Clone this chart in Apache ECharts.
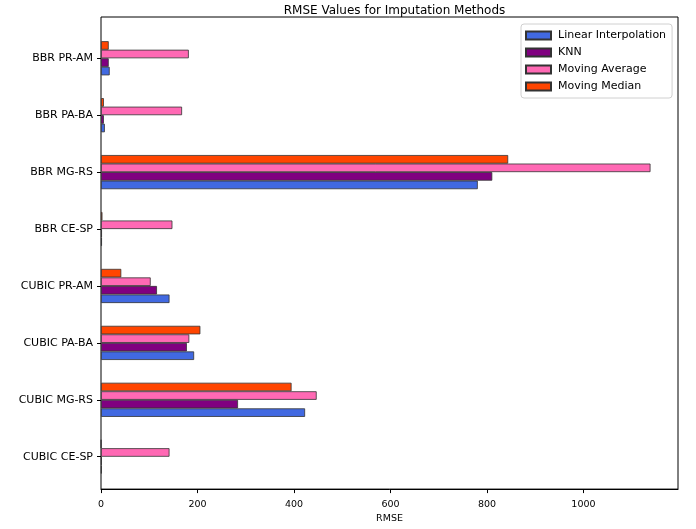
<!DOCTYPE html>
<html>
<head>
<meta charset="utf-8">
<script src="https://cdn.jsdelivr.net/npm/echarts@6/dist/echarts.min.js"></script>
<style>html,body{margin:0;padding:0;background:#fff;}#c{width:696px;height:529px;}</style>
</head>
<body>
<div id="c"></div>
<script>
// bottom-to-top order (as matplotlib barh draws them)
const categories = ['CUBIC CE-SP','CUBIC MG-RS','CUBIC PA-BA','CUBIC PR-AM','BBR CE-SP','BBR MG-RS','BBR PA-BA','BBR PR-AM'];
const linearInterpolation = [1.5, 423, 193, 142, 2, 781, 8, 18];
const knn = [1.5, 284, 178, 116, 2, 811, 6, 16];
const movingAverage = [142, 447, 183, 103, 148, 1139, 168, 182];
const movingMedian = [0.5, 395, 206, 42, 3, 844, 6, 16];
const seriesNames = ['Linear Interpolation','KNN','Moving Average','Moving Median'];
const seriesColors = ['#4169E1','#800080','#FF69B4','#FF4500'];
const xTicks = [0, 200, 400, 600, 800, 1000];
const xMax = 1196;

const FONT = 'DejaVu Sans';
const chart = echarts.init(document.getElementById('c'), null, {renderer: 'canvas'});
const dataSets = [linearInterpolation, knn, movingAverage, movingMedian];

// ECharts stacks horizontal group members top-down, so feed series in reverse
const order = [3, 2, 1, 0];

const option = {
  animation: false,
  backgroundColor: '#fff',
  textStyle: {fontFamily: FONT},
  title: {
    text: 'RMSE Values for Imputation Methods',
    left: 389.5, top: 0, textAlign: 'center',
    textStyle: {fontFamily: FONT, fontSize: 12, fontWeight: 'normal', color: '#000'}
  },
  legend: {
    orient: 'vertical',
    left: 521, top: 24,
    data: seriesNames,
    itemWidth: 25, itemHeight: 8, itemGap: 6,
    padding: [6, 6, 6, 4],
    backgroundColor: '#fff',
    borderColor: '#d0d0d0', borderWidth: 1, borderRadius: 3,
    textStyle: {fontFamily: FONT, fontSize: 11, color: '#000', padding: [0, 0, 0, 2]},
    icon: 'rect'
  },
  grid: [
    {left: 101, right: 18, top: 17, bottom: 32, show: true, borderColor: '#000', borderWidth: 1, backgroundColor: 'transparent'},
    {left: 101, right: 18, top: 29.8, bottom: 43.8}
  ],
  xAxis: [
    {
      gridIndex: 0, type: 'value', min: 0, max: xMax, interval: 200,
      splitLine: {show: false},
      axisLine: {show: true, lineStyle: {color: '#000', width: 1}},
      axisTick: {show: true, length: 4, lineStyle: {color: '#000'}},
      axisLabel: {show: true, fontFamily: FONT, fontSize: 9.5, color: '#000', margin: 10, showMaxLabel: false,
        formatter: v => (xTicks.indexOf(v) >= 0 ? String(v) : '')},
      name: 'RMSE', nameLocation: 'middle', nameGap: 24,
      nameTextStyle: {fontFamily: FONT, fontSize: 9.5, color: '#000'}
    },
    {gridIndex: 1, type: 'value', min: 0, max: xMax, show: false}
  ],
  yAxis: [
    {gridIndex: 0, type: 'value', show: false},
    {
      gridIndex: 1, type: 'category', data: categories,
      axisLine: {show: false},
      axisTick: {show: true, alignWithLabel: true, length: 4, lineStyle: {color: '#000'}},
      axisLabel: {fontFamily: FONT, fontSize: 11, color: '#000', margin: 8},
      splitLine: {show: false}
    }
  ],
  series: order.map(i => ({
    name: seriesNames[i],
    type: 'bar',
    xAxisIndex: 1, yAxisIndex: 1,
    data: dataSets[i],
    barWidth: '15%',
    barGap: '0%',
    itemStyle: {color: seriesColors[i], borderColor: '#333', borderWidth: 0.8}
  }))
};
chart.setOption(option);
</script>
</body>
</html>
